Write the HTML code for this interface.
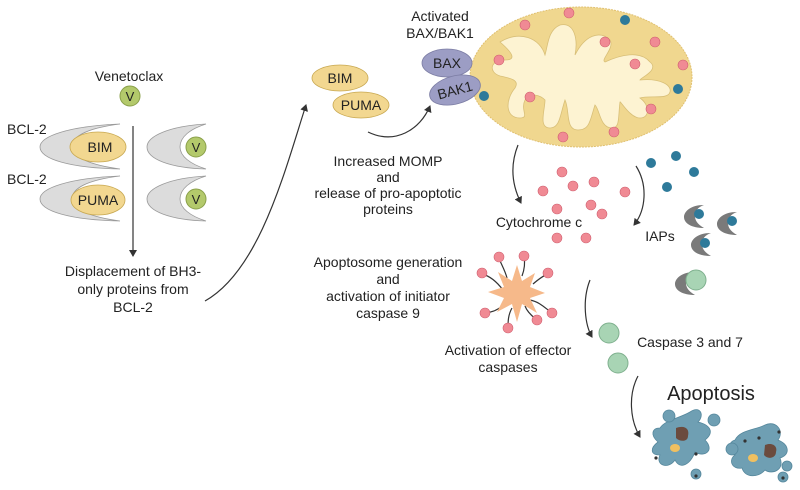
<!DOCTYPE html>
<html><head><style>
html,body{margin:0;padding:0;background:#fff;}
svg{display:block;}
text{font-family:"Liberation Sans",sans-serif;fill:#222;}
</style></head><body>
<svg width="800" height="490" viewBox="0 0 800 490" xmlns="http://www.w3.org/2000/svg">
<defs>
<marker id="ah" markerWidth="8" markerHeight="8" refX="6" refY="4" orient="auto" markerUnits="userSpaceOnUse">
<path d="M0,0 L7,4 L0,8 Z" fill="#333"/></marker>
<g id="iap"><path d="M4,-11 C-10,-11 -16,-4 -16,1 C-16,7 -9,12 4,12 C-3,8 -5,4 -5,0 C-5,-5 -2,-9 4,-11 Z" fill="#7a7a7a"/></g>
</defs>

<!-- Left panel -->
<text x="129" y="81" font-size="14" text-anchor="middle">Venetoclax</text>
<circle cx="130" cy="96" r="10" fill="#b3c96b" stroke="#8aa04a"/>
<text x="130" y="101" font-size="13" text-anchor="middle">V</text>
<text x="7" y="134" font-size="14">BCL-2</text>
<text x="7" y="184" font-size="14">BCL-2</text>
<path d="M120,124 C70,126 40,136 40,147 C40,159 70,168 120,169 C90,165 72,157 72,147 C72,136 88,128 120,124 Z" fill="#dcdcdc" stroke="#9a9a9a" stroke-width="0.8"/>
<path d="M120,176 C70,178 40,188 40,199 C40,211 70,220 120,221 C90,217 72,209 72,199 C72,188 88,180 120,176 Z" fill="#dcdcdc" stroke="#9a9a9a" stroke-width="0.8"/>
<ellipse cx="98" cy="147" rx="28" ry="15" fill="#f2d790" stroke="#c8a850" stroke-width="0.8"/>
<text x="100" y="152" font-size="14" text-anchor="middle">BIM</text>
<ellipse cx="98" cy="200" rx="27" ry="15" fill="#f2d790" stroke="#c8a850" stroke-width="0.8"/>
<text x="98" y="205" font-size="14" text-anchor="middle">PUMA</text>
<path d="M206,124 C170,126 147,136 147,147 C147,159 170,168 206,169 C190,164 180,156 180,147 C180,137 190,129 206,124 Z" fill="#dcdcdc" stroke="#9a9a9a" stroke-width="0.8"/>
<path d="M206,176 C170,178 147,188 147,199 C147,211 170,220 206,221 C190,216 180,208 180,199 C180,189 190,181 206,176 Z" fill="#dcdcdc" stroke="#9a9a9a" stroke-width="0.8"/>
<circle cx="196" cy="147" r="10" fill="#b3c96b" stroke="#8aa04a"/>
<text x="196" y="152" font-size="13" text-anchor="middle">V</text>
<circle cx="196" cy="199" r="10" fill="#b3c96b" stroke="#8aa04a"/>
<text x="196" y="204" font-size="13" text-anchor="middle">V</text>
<line x1="133" y1="126" x2="133" y2="256" stroke="#333" stroke-width="1.2" marker-end="url(#ah)"/>
<text x="133" y="276" font-size="14" text-anchor="middle">Displacement of BH3-</text>
<text x="133" y="294" font-size="14" text-anchor="middle">only proteins from</text>
<text x="133" y="312" font-size="14" text-anchor="middle">BCL-2</text>
<path d="M205,301 C260,270 285,170 306,105" fill="none" stroke="#333" stroke-width="1.2" marker-end="url(#ah)"/>

<!-- BIM PUMA -->
<ellipse cx="340" cy="78" rx="28" ry="13" fill="#f2d790" stroke="#c8a850" stroke-width="0.8"/>
<text x="340" y="83" font-size="14" text-anchor="middle">BIM</text>
<ellipse cx="361" cy="105" rx="28" ry="13" fill="#f2d790" stroke="#c8a850" stroke-width="0.8"/>
<text x="361" y="110" font-size="14" text-anchor="middle">PUMA</text>
<path d="M368,132 C395,145 420,130 430,106" fill="none" stroke="#333" stroke-width="1.2" marker-end="url(#ah)"/>
<text x="388" y="166" font-size="14" text-anchor="middle">Increased MOMP</text>
<text x="388" y="182" font-size="14" text-anchor="middle">and</text>
<text x="388" y="198" font-size="14" text-anchor="middle">release of pro-apoptotic</text>
<text x="388" y="214" font-size="14" text-anchor="middle">proteins</text>

<!-- Mitochondrion -->
<ellipse cx="581" cy="77" rx="111" ry="70" fill="#f0d78f" stroke="#e0c070" stroke-dasharray="2 1"/>
<path d="M500,42 C520,30 540,38 545,55 C548,45 548,30 560,25 C575,22 578,40 575,55 C585,35 600,30 610,40 C615,48 600,60 605,62 C620,55 640,50 650,62 C660,70 640,78 640,80 C660,78 672,85 670,92 C668,100 650,95 640,98 C650,105 650,118 640,118 C630,118 620,100 620,102 C618,118 620,128 612,128 C600,128 600,110 595,105 C590,120 590,130 578,130 C565,130 570,110 565,100 C560,115 560,128 550,128 C538,128 545,110 545,100 C540,95 530,92 525,100 C520,110 530,118 520,118 C505,118 505,100 515,88 C520,80 510,78 500,76 C488,72 490,60 505,60 C515,60 515,55 500,42 Z" fill="#fdf3d2" stroke="#d8bf78" stroke-width="0.8"/>
<g fill="#f08a94" stroke="#d06070" stroke-width="0.6">
<circle cx="569" cy="13" r="5"/><circle cx="525" cy="25" r="5"/><circle cx="499" cy="60" r="5"/><circle cx="605" cy="42" r="5"/><circle cx="655" cy="42" r="5"/><circle cx="635" cy="64" r="5"/><circle cx="683" cy="65" r="5"/><circle cx="530" cy="97" r="5"/><circle cx="651" cy="109" r="5"/><circle cx="563" cy="137" r="5"/><circle cx="614" cy="132" r="5"/>
</g>
<g fill="#2e7a9a"><circle cx="625" cy="20" r="5"/><circle cx="678" cy="89" r="5"/><circle cx="484" cy="96" r="5"/></g>
<ellipse cx="447" cy="63" rx="25" ry="14" fill="#9c9dc4" stroke="#7c7da4" stroke-width="0.8"/>
<text x="447" y="68" font-size="14" text-anchor="middle">BAX</text>
<ellipse cx="455" cy="90" rx="26" ry="14" fill="#9c9dc4" stroke="#7c7da4" stroke-width="0.8" transform="rotate(-15 455 90)"/>
<text x="455" y="95" font-size="14" text-anchor="middle" transform="rotate(-15 455 90)">BAK1</text>
<text x="440" y="21" font-size="14" text-anchor="middle">Activated</text>
<text x="440" y="38" font-size="14" text-anchor="middle">BAX/BAK1</text>

<!-- Cytochrome -->
<path d="M518,145 C510,165 512,185 521,203" fill="none" stroke="#333" stroke-width="1.2" marker-end="url(#ah)"/>
<g fill="#f08a94" stroke="#d06070" stroke-width="0.6">
<circle cx="562" cy="172" r="5"/><circle cx="543" cy="191" r="5"/><circle cx="573" cy="186" r="5"/><circle cx="594" cy="182" r="5"/><circle cx="625" cy="192" r="5"/><circle cx="557" cy="209" r="5"/><circle cx="591" cy="205" r="5"/><circle cx="602" cy="214" r="5"/><circle cx="557" cy="238" r="5"/><circle cx="586" cy="238" r="5"/>
</g>
<text x="539" y="227" font-size="14" text-anchor="middle">Cytochrome c</text>
<path d="M636,166 C648,185 646,210 634,225" fill="none" stroke="#333" stroke-width="1.2" marker-end="url(#ah)"/>
<g fill="#2e7a9a"><circle cx="651" cy="163" r="5"/><circle cx="676" cy="156" r="5"/><circle cx="694" cy="172" r="5"/><circle cx="667" cy="187" r="5"/></g>
<text x="660" y="241" font-size="14" text-anchor="middle">IAPs</text>
<use href="#iap" x="700" y="216"/><circle cx="699" cy="214" r="5" fill="#2e7a9a"/>
<use href="#iap" x="733" y="223"/><circle cx="732" cy="221" r="5" fill="#2e7a9a"/>
<use href="#iap" x="707" y="244"/><circle cx="705" cy="243" r="5" fill="#2e7a9a"/>
<use href="#iap" x="691" y="283"/><circle cx="696" cy="280" r="10" fill="#a8d4b4" stroke="#7fb08e"/>

<!-- Apoptosome -->
<text x="388" y="267" font-size="14" text-anchor="middle">Apoptosome generation</text>
<text x="388" y="284" font-size="14" text-anchor="middle">and</text>
<text x="388" y="301" font-size="14" text-anchor="middle">activation of initiator</text>
<text x="388" y="318" font-size="14" text-anchor="middle">caspase 9</text>
<g stroke="#333" stroke-width="1.2" fill="none">
<path d="M507,278 C505,270 500,262 499,258"/><path d="M522,276 C525,268 525,262 524,257"/><path d="M533,284 C540,278 545,275 548,274"/><path d="M503,290 C497,282 490,276 482,274"/><path d="M505,305 C498,308 496,312 485,313"/><path d="M512,308 C508,315 508,322 508,328"/><path d="M525,306 C528,314 535,318 537,320"/><path d="M530,300 C540,302 545,308 552,313"/>
</g>
<polygon points="517,265 522,281 535,273 530,287 545,293 530,298 537,313 522,304 517,322 512,304 497,312 504,298 488,292 504,287 498,272 512,281" fill="#f6b98a"/>
<g fill="#f08a94" stroke="#d06070" stroke-width="0.6">
<circle cx="499" cy="257" r="5"/><circle cx="524" cy="256" r="5"/><circle cx="548" cy="273" r="5"/><circle cx="482" cy="273" r="5"/><circle cx="485" cy="313" r="5"/><circle cx="508" cy="328" r="5"/><circle cx="537" cy="320" r="5"/><circle cx="552" cy="313" r="5"/>
</g>
<text x="508" y="355" font-size="14" text-anchor="middle">Activation of effector</text>
<text x="508" y="372" font-size="14" text-anchor="middle">caspases</text>
<path d="M590,280 C582,300 585,325 592,337" fill="none" stroke="#333" stroke-width="1.2" marker-end="url(#ah)"/>
<circle cx="609" cy="333" r="10" fill="#a8d4b4" stroke="#7fb08e"/>
<circle cx="618" cy="363" r="10" fill="#a8d4b4" stroke="#7fb08e"/>
<text x="690" y="347" font-size="14" text-anchor="middle">Caspase 3 and 7</text>

<!-- Apoptosis -->
<text x="711" y="400" font-size="20" text-anchor="middle">Apoptosis</text>
<path d="M638,376 C628,395 630,420 640,437" fill="none" stroke="#333" stroke-width="1.2" marker-end="url(#ah)"/>
<g fill="#6f9fb3" stroke="#55879c" stroke-width="0.8">
<path d="M660,428 C665,420 680,418 690,412 C700,405 705,415 698,422 C710,425 715,432 705,440 C715,450 705,458 695,452 C690,465 680,470 675,460 C668,470 655,465 660,455 C650,455 650,448 658,442 C650,435 652,428 660,428 Z"/>
<circle cx="669" cy="416" r="6"/><circle cx="714" cy="420" r="6"/><circle cx="696" cy="474" r="5"/>
<path d="M735,440 C740,430 755,430 765,425 C775,420 785,430 778,440 C790,445 790,455 780,458 C785,470 772,475 765,470 C758,478 745,478 742,468 C732,470 728,460 735,455 C728,450 728,442 735,440 Z"/>
<circle cx="732" cy="449" r="6"/><circle cx="787" cy="466" r="5"/><circle cx="783" cy="477" r="5"/>
</g>
<path d="M676,428 C684,425 690,428 688,436 C688,442 680,442 676,438 Z" fill="#6b4b3e"/>
<path d="M765,445 C772,442 778,446 776,452 C776,458 768,460 764,455 Z" fill="#6b4b3e"/>
<ellipse cx="675" cy="448" rx="5" ry="4" fill="#f0c060"/>
<ellipse cx="753" cy="458" rx="5" ry="4" fill="#f0c060"/>
<g fill="#333"><circle cx="656" cy="458" r="1.6"/><circle cx="696" cy="454" r="1.6"/><circle cx="745" cy="441" r="1.6"/><circle cx="759" cy="438" r="1.6"/><circle cx="779" cy="432" r="1.6"/><circle cx="696" cy="476" r="1.6"/><circle cx="783" cy="478" r="1.6"/></g>
</svg>
</body></html>
